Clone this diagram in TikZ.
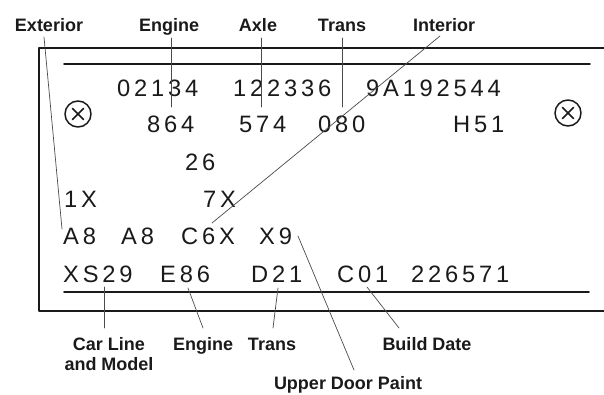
\documentclass[tikz,border=0pt]{standalone}
\usepackage{fontspec}
\setmainfont{Liberation Sans}
\newfontfamily\platefont[LetterSpace=16]{Liberation Sans}
\definecolor{plateink}{HTML}{1A1A1A}
\definecolor{leaderline}{HTML}{4A4A4A}

\begin{document}
\begin{tikzpicture}[
  x=1pt,
  y=-1pt,
  line join=round,
  line cap=round,
  frame/.style={draw=plateink,line width=2pt,line cap=butt},
  rule/.style={draw=plateink,line width=1.8pt},
  leader/.style={draw=leaderline,line width=0.7pt},
  code/.style={anchor=base west,inner sep=0pt,font=\platefont\fontsize{23.7}{28}\selectfont,text=plateink},
  callout/.style={anchor=base,inner sep=0pt,font=\fontsize{18}{20}\selectfont\bfseries,text=plateink,align=center},
  bolt/.style={circle,draw=plateink,line width=1.5pt,minimum size=26pt,inner sep=0pt},
  crossbar/.style={draw=plateink,line width=1.5pt}
]
  \useasboundingbox (0,0) rectangle (604,394);

  % plate outline, open to the right
  \draw[frame] (604,48) -- (39,48) -- (39,311) -- (604,311);
  \draw[rule] (64,64) -- (590,64);
  \draw[rule] (64,292) -- (589,292);

  % mounting bolts
  \node[bolt] (boltL) at (78,114) {};
  \node[bolt] (boltR) at (568,113) {};
  \foreach \b in {boltL,boltR} {
    \draw[crossbar] ([shift={(-5.5,-5.5)}]\b.center) -- ([shift={(5.5,5.5)}]\b.center);
    \draw[crossbar] ([shift={(-5.5,5.5)}]\b.center) -- ([shift={(5.5,-5.5)}]\b.center);
  }

  % plate codes, row by row
  \node[code] (rowAa) at (117,96) {02134};
  \node[code] (rowAb) at (233,96) {122336};
  \node[code] (rowAc) at (366,96) {9A192544};

  \node[code] (rowBa) at (147,132) {864};
  \node[code] (rowBb) at (239,132) {574};
  \node[code] (rowBc) at (318,132) {080};
  \node[code] (rowBd) at (453,132) {H51};

  \node[code] (rowCa) at (185,170) {26};

  \node[code] (rowDa) at (64,207) {1X};
  \node[code] (rowDb) at (203,207) {7X};

  \node[code] (rowEa) at (63,244) {A8};
  \node[code] (rowEb) at (121,244) {A8};
  \node[code] (rowEc) at (181,244) {C6X};
  \node[code] (rowEd) at (259,244) {X9};

  \node[code] (rowFa) at (63,282) {XS29};
  \node[code] (rowFb) at (160,282) {E86};
  \node[code] (rowFc) at (251,282) {D21};
  \node[code] (rowFd) at (337,282) {C01};
  \node[code] (rowFe) at (411,282) {226571};

  % callouts
  \node[callout] (lExterior) at (49,31) {Exterior};
  \node[callout] (lEngineT) at (169,31) {Engine};
  \node[callout] (lAxle) at (258,31) {Axle};
  \node[callout] (lTransT) at (342,31) {Trans};
  \node[callout] (lInterior) at (444,31) {Interior};

  \node[callout] (lCarLine) at (109,370) {Car Line\\and Model};
  \node[callout] (lEngineB) at (203,350) {Engine};
  \node[callout] (lTransB) at (272,350) {Trans};
  \node[callout] (lBuild) at (427,350) {Build Date};
  \node[callout] (lDoor) at (348,389) {Upper Door Paint};

  % leader ends
  \coordinate (eExterior) at (44,37);
  \coordinate (pExterior) at (62,229);
  \coordinate (eEngineT) at (171,38);
  \coordinate (pEngineT) at (171,107);
  \coordinate (eAxle) at (261,38);
  \coordinate (pAxle) at (261,107);
  \coordinate (eTransT) at (342,38);
  \coordinate (pTransT) at (342,107);
  \coordinate (eInterior) at (440,36);
  \coordinate (pInterior) at (212,223);
  \coordinate (eDoor) at (354,370);
  \coordinate (pDoor) at (298,236);
  \coordinate (eCarLine) at (104,328);
  \coordinate (pCarLine) at (104,287);
  \coordinate (eEngineB) at (203,328);
  \coordinate (pEngineB) at (188,288);
  \coordinate (eTransB) at (273,328);
  \coordinate (pTransB) at (278,288);
  \coordinate (eBuild) at (399,328);
  \coordinate (pBuild) at (367,287);

  \foreach \k in {Exterior,EngineT,Axle,TransT,Interior,Door,CarLine,EngineB,TransB,Build}
    \draw[leader] (e\k) -- (p\k);
\end{tikzpicture}
\end{document}
